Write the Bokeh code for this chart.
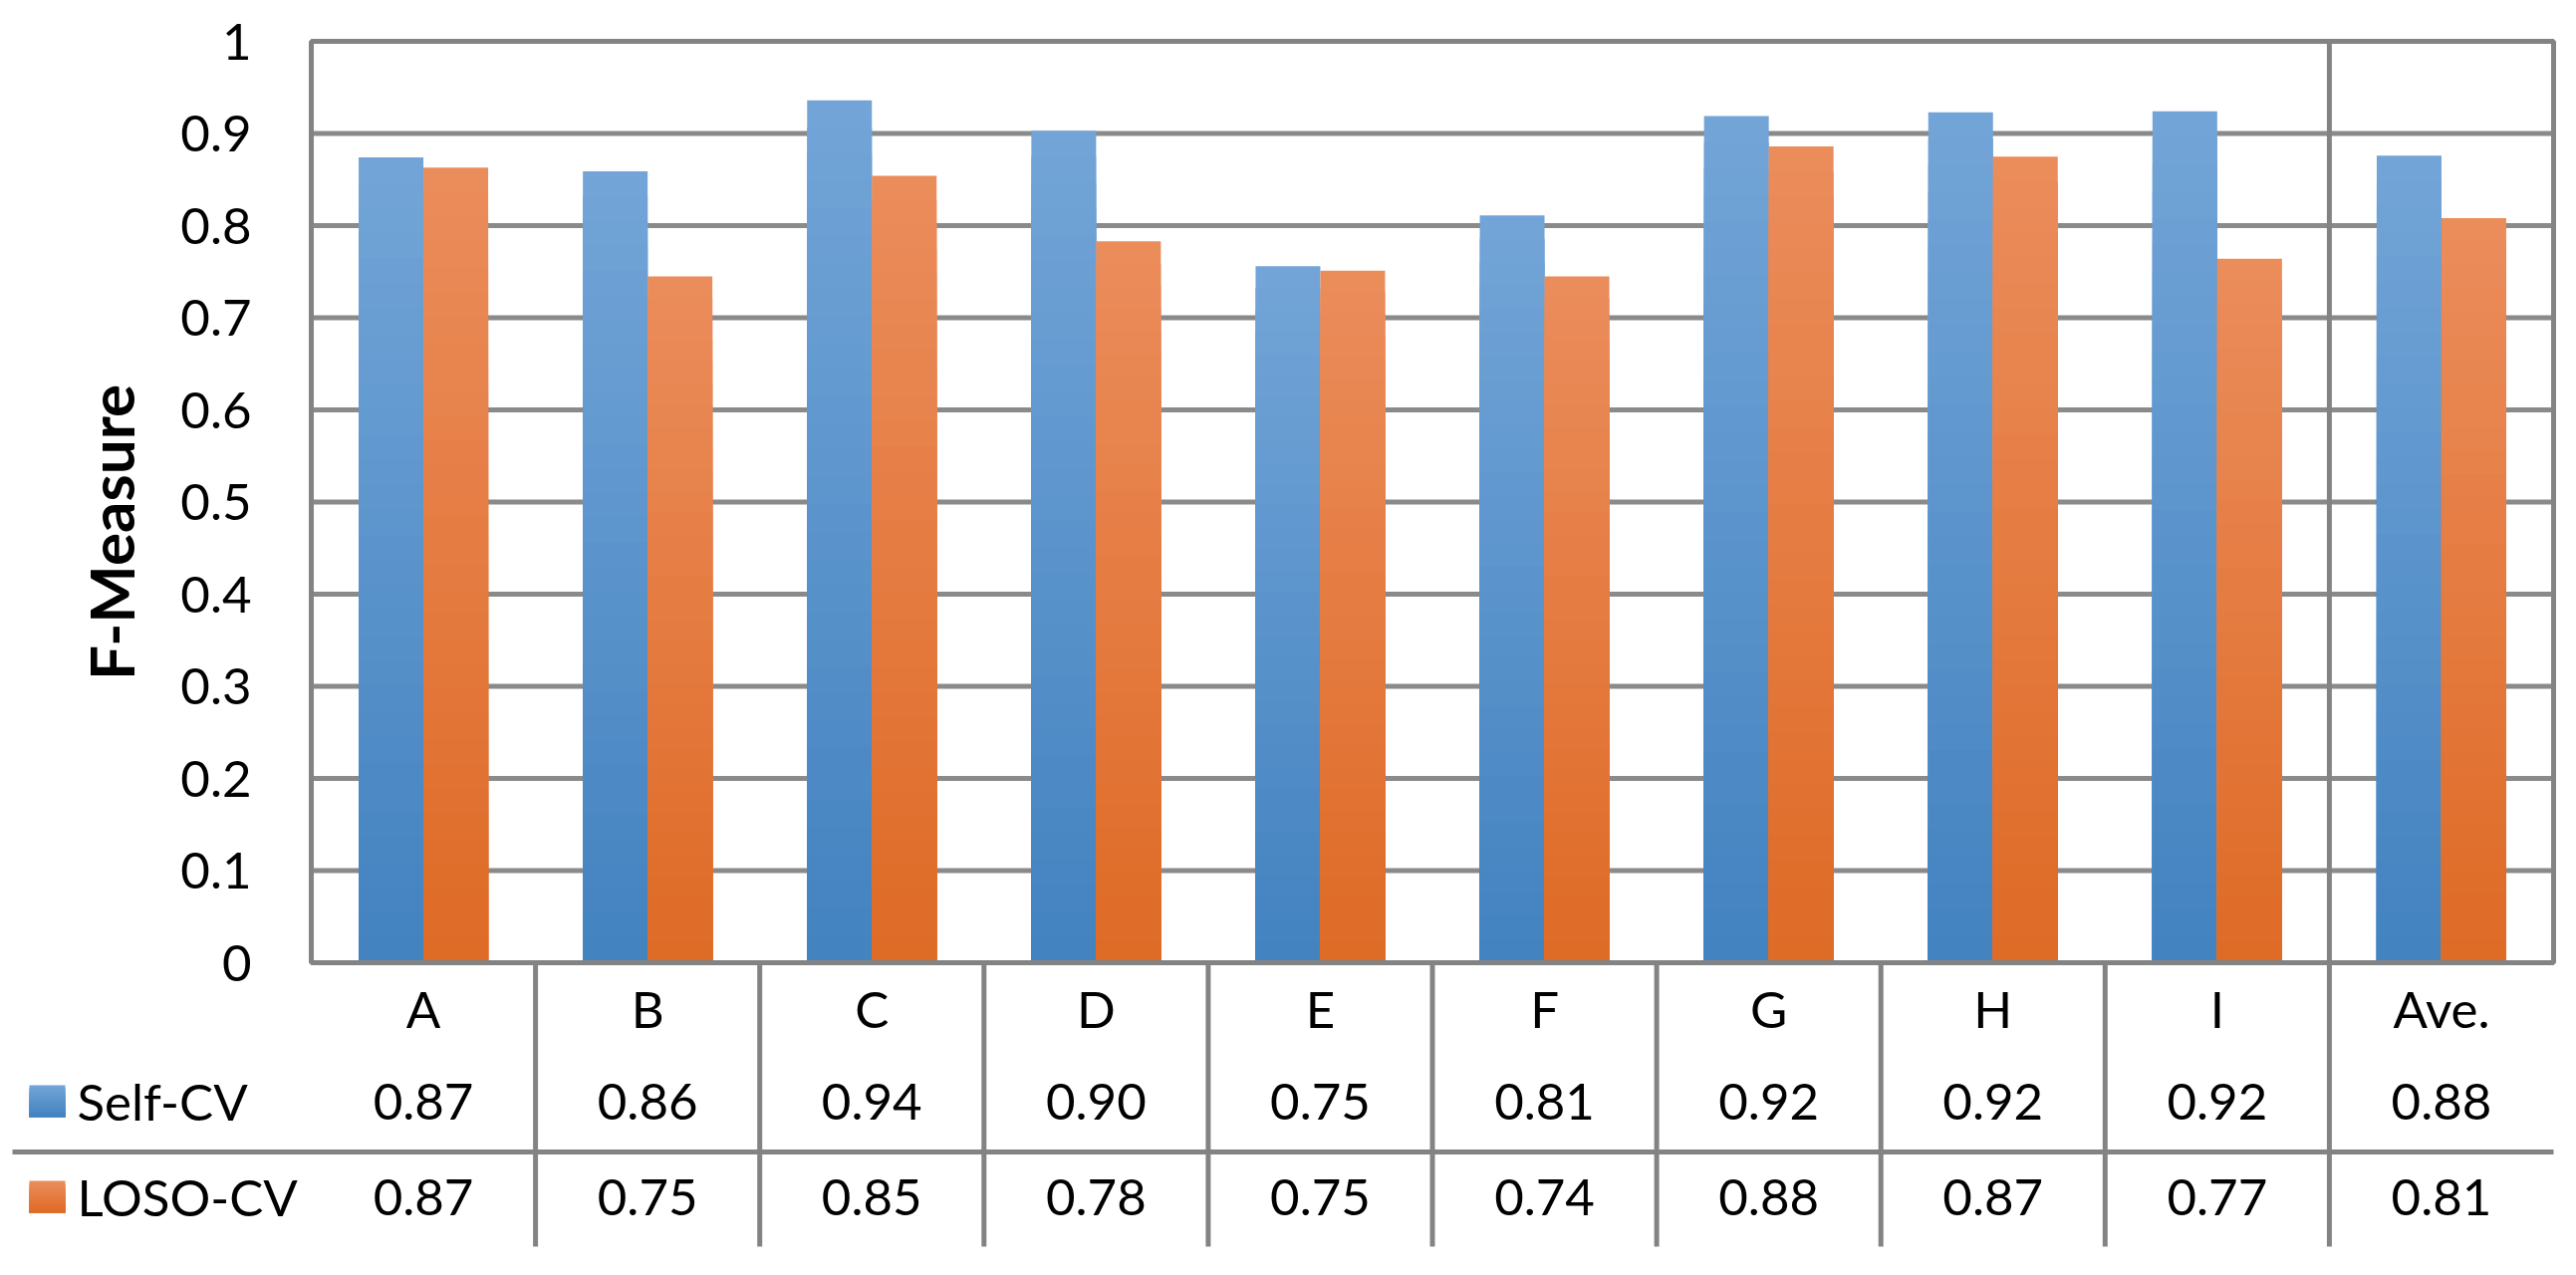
import math
from bokeh.plotting import figure
from bokeh.models import Range1d, ColumnDataSource
from bokeh.embed import file_html
from bokeh.resources import INLINE
from bokeh.core.properties import value

# ---------------- data ----------------
categories = ["A", "B", "C", "D", "E", "F", "G", "H", "I", "Ave."]
self_cv = [0.874, 0.859, 0.936, 0.903, 0.756, 0.811, 0.919, 0.923, 0.924, 0.876]
loso_cv = [0.863, 0.745, 0.854, 0.783, 0.751, 0.745, 0.886, 0.875, 0.764, 0.808]
self_cv_labels = ["0.87", "0.86", "0.94", "0.90", "0.75", "0.81", "0.92", "0.92", "0.92", "0.88"]
loso_cv_labels = ["0.87", "0.75", "0.85", "0.78", "0.75", "0.74", "0.88", "0.87", "0.77", "0.81"]
series_names = ["Self-CV", "LOSO-CV"]
y_ticks = [0, 0.1, 0.2, 0.3, 0.4, 0.5, 0.6, 0.7, 0.8, 0.9, 1.0]
y_tick_labels = ["0", "0.1", "0.2", "0.3", "0.4", "0.5", "0.6", "0.7", "0.8", "0.9", "1"]
y_title = "F-Measure"

# ---------------- style / geometry ----------------
FONT = "Lato"
FS = "51px"
GRID = "#8a8a8a"
FRAME = "#838383"
BLUE = ("#73a5d7", "#4282c0")
ORANGE = ("#eb8d5c", "#de6a25")
LW = 5

W, H = 2570, 1264           # canvas (page offset 8px)
NCAT = len(categories)
X0_PAGE, X1_PAGE = 320, 2571  # plot frame left / right (page px)
Y0_PAGE, Y1_PAGE = 974, 49    # value 0 / value 1 (page px)
PPU = (X1_PAGE - X0_PAGE) / NCAT
PPY = (Y0_PAGE - Y1_PAGE)


def px(page_x):
    return (page_x - X0_PAGE) / PPU


def py(page_y):
    return (Y0_PAGE - page_y) / PPY


BW = 65 / PPU
NSTEP = 32


def hex2rgb(h):
    h = h.lstrip("#")
    return tuple(int(h[i:i + 2], 16) for i in (0, 2, 4))


def lerp(c1, c2, t):
    a, b = hex2rgb(c1), hex2rgb(c2)
    return "#%02x%02x%02x" % tuple(round(a[i] + (b[i] - a[i]) * t) for i in range(3))


def gradient_bars(xs, vals, colors):
    x, top, col = [], [], []
    for k in range(NSTEP):
        c = lerp(colors[0], colors[1], (k + 0.5) / NSTEP)
        for xi, v in zip(xs, vals):
            x.append(xi)
            top.append(v * (1 - k / NSTEP))
            col.append(c)
    return ColumnDataSource(dict(x=x, top=top, color=col))


p = figure(width=W, height=H,
           x_range=Range1d(px(8), px(8 + W)), y_range=Range1d(py(8 + H), py(8)),
           output_backend="svg", toolbar_location=None, title=None,
           x_axis_location=None, y_axis_location=None,
           min_border_left=0, min_border_right=0, min_border_top=0, min_border_bottom=0)
p.grid.visible = False
p.outline_line_color = None

# gridlines
p.segment(x0=0, x1=NCAT, y0=y_ticks, y1=y_ticks, line_color=GRID, line_width=LW)

# bars
centers = [i + 0.5 for i in range(NCAT)]
p.vbar(x="x", top="top", bottom=0, width=BW, fill_color="color", line_color=None,
       source=gradient_bars([c - BW / 2 for c in centers], self_cv, BLUE))
p.vbar(x="x", top="top", bottom=0, width=BW, fill_color="color", line_color=None,
       source=gradient_bars([c + BW / 2 for c in centers], loso_cv, ORANGE))

# plot frame and the separator before the average
p.quad(left=[0], right=[NCAT], bottom=[y_ticks[0]], top=[y_ticks[-1]],
       fill_color=None, line_color=FRAME, line_width=LW)
p.segment(x0=[NCAT - 1], x1=[NCAT - 1], y0=[y_ticks[0]], y1=[y_ticks[-1]],
          line_color=FRAME, line_width=LW)

# y tick labels and title
txt = dict(text_font=value(FONT), text_font_size=value(FS), text_color="black")
p.text(x=[px(260)] * len(y_ticks), y=y_ticks, text=y_tick_labels,
       text_align="right", text_baseline="middle", **txt)
p.text(x=[px(118)], y=[py(542)], text=[y_title], angle=math.pi / 2,
       text_font=value(FONT), text_font_size=value("62px"), text_font_style="bold",
       text_color="black", text_align="center", text_baseline="alphabetic")

# data table
ROW_CAT, ROW_SELF, ROW_LOSO = py(1020), py(1113), py(1209)
p.segment(x0=list(range(1, NCAT)), x1=list(range(1, NCAT)), y0=0, y1=py(1259),
          line_color=FRAME, line_width=LW)
p.segment(x0=[px(20)], x1=[NCAT], y0=[py(1164)], y1=[py(1164)], line_color=FRAME, line_width=LW)

p.text(x=centers, y=[ROW_CAT] * NCAT, text=categories, text_align="center", text_baseline="middle", **txt)
p.text(x=centers, y=[ROW_SELF] * NCAT, text=self_cv_labels, text_align="center", text_baseline="middle", **txt)
p.text(x=centers, y=[ROW_LOSO] * NCAT, text=loso_cv_labels, text_align="center", text_baseline="middle", **txt)

# legend keys
for name, row, colors in ((series_names[0], ROW_SELF, BLUE), (series_names[1], ROW_LOSO, ORANGE)):
    half = 16 / PPY
    sq_top, sq_bot = row + half, row - half
    n = 12
    tops = [sq_top - (sq_top - sq_bot) * k / n for k in range(n)]
    cols = [lerp(colors[0], colors[1], (k + 0.5) / n) for k in range(n)]
    p.quad(left=[px(37)] * n, right=[px(73)] * n, top=tops, bottom=[sq_bot] * n,
           fill_color=cols, line_color=None)
    p.text(x=[px(85)], y=[row], text=[name], text_align="left", text_baseline="middle", **txt)

open("out.html", "w").write(file_html(p, INLINE))
